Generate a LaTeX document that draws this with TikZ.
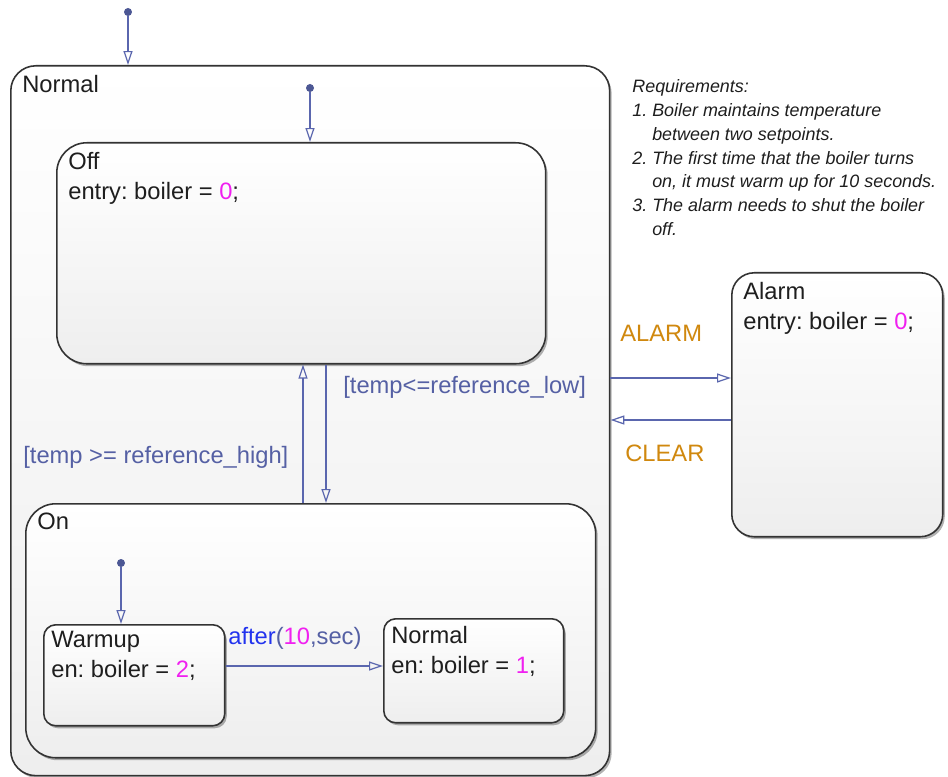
\documentclass[tikz,border=0pt]{standalone}
\usepackage{fontspec}
\setmainfont{Liberation Sans}
\usetikzlibrary{arrows.meta,positioning,shadows,calc}
\frenchspacing
\definecolor{ink}{HTML}{1E1E1E}
\definecolor{edge}{HTML}{333333}
\definecolor{wire}{HTML}{5A66AE}
\definecolor{guardtxt}{HTML}{5560A4}
\definecolor{eventtxt}{HTML}{D0880E}
\definecolor{numtxt}{HTML}{F020F0}
\definecolor{kwtxt}{HTML}{2233EE}
\definecolor{shadebot}{HTML}{EEEEEE}
\tikzset{
  statebox/.style={draw=edge,line width=.9pt,anchor=north west,inner sep=0pt,top color=white,bottom color=shadebot,
    drop shadow={shadow xshift=.04cm,shadow yshift=-.05cm,opacity=.3,fill=black}},
  statelbl/.style={anchor=north west,inner sep=0pt,align=left,text=ink,font=\fontsize{13.5}{17}\selectfont},
  trans/.style={-{Triangle[open,length=.28cm,width=.18cm]},line width=.7pt,draw=wire},
  dot/.style={circle,fill=wire!85!black,inner sep=0pt,minimum size=.16cm},
  guard/.style={anchor=base west,inner sep=0pt,text=guardtxt,font=\fontsize{13.5}{17}\selectfont},
  event/.style={guard,text=eventtxt},
  note/.style={anchor=north west,inner sep=0pt,align=left,text=ink,font=\fontsize{10.2}{13.6}\selectfont\itshape}
}
\newcommand{\num}[1]{\textcolor{numtxt}{#1}}
\begin{document}
\begin{tikzpicture}[x=0.02cm,y=-0.02cm]
\fill[white] (0,0) rectangle (948,777);
\useasboundingbox (0,0) rectangle (948,777);
% states
\node[statebox,rounded corners=.5cm,minimum width=11.98cm,minimum height=14.2cm] (normal) at (10,65) {};
\node[statelbl] (normallbl) at ([shift={(12,10)}]normal.north west) {Normal};
\node[statebox,rounded corners=.6cm,minimum width=9.78cm,minimum height=4.42cm] (off) at (56,142) {};
\node[statelbl] (offlbl) at ([shift={(12,10)}]off.north west) {Off\\entry: boiler = \num{0};};
\node[statebox,rounded corners=.6cm,minimum width=11.4cm,minimum height=5.08cm] (on) at (25,503) {};
\node[statelbl] (onlbl) at ([shift={(12,10)}]on.north west) {On};
\node[statebox,rounded corners=.24cm,minimum width=3.62cm,minimum height=2.02cm] (warmup) at (43,624) {};
\node[statelbl] (warmuplbl) at ([shift={(8,7)}]warmup.north west) {Warmup\\en: boiler = \num{2};};
\node[statebox,rounded corners=.24cm,minimum width=3.6cm,minimum height=2.08cm] (onnormal) at (383,618) {};
\node[statelbl] (onnormallbl) at ([shift={(8,8)}]onnormal.north west) {Normal\\en: boiler = \num{1};};
\node[statebox,rounded corners=.45cm,minimum width=4.22cm,minimum height=5.28cm] (alarm) at (731,272) {};
\node[statelbl] (alarmlbl) at ([shift={(12,10)}]alarm.north west) {Alarm\\entry: boiler = \num{0};};
% default transitions
\node[dot] (d0) at (128,12) {};
\node[dot] (d1) at (310,88) {};
\node[dot] (d2) at (121,563) {};
\draw[trans] (d0) -- (d0 |- normal.north);
\draw[trans] (d1) -- (d1 |- off.north);
\draw[trans] (d2) -- (d2 |- warmup.north);
% transitions
\coordinate (xu) at (303,0);
\coordinate (xd) at (326,0);
\coordinate (ya) at (0,378);
\coordinate (yc) at (0,420);
\coordinate (yt) at (0,666);
\draw[trans] (on.north -| xu) -- (off.south -| xu);
\draw[trans] (off.south -| xd) -- (on.north -| xd);
\draw[trans] (normal.east |- ya) -- (alarm.west |- ya);
\draw[trans] (alarm.west |- yc) -- (normal.east |- yc);
\draw[trans] (warmup.east |- yt) -- (onnormal.west |- yt);
% labels
\node[guard] (lowlbl) at (343,394) {[temp<=reference\_low]};
\node[guard] (highlbl) at (23,463) {[temp >= reference\_high]};
\node[event] (alarmev) at (620,341) {ALARM};
\node[event] (clearev) at (625,461) {CLEAR};
\node[guard] (afterlbl) at (228,644) {\textcolor{kwtxt}{after}(\num{10},sec)};
\node[note] (req) at (632,79) {Requirements:\\
1.\ Boiler maintains temperature\\
\phantom{1.\ }between two setpoints.\\
2.\ The first time that the boiler turns\\
\phantom{2.\ }on, it must warm up for 10 seconds.\\
3.\ The alarm needs to shut the boiler\\
\phantom{3.\ }off.};
\end{tikzpicture}
\end{document}
